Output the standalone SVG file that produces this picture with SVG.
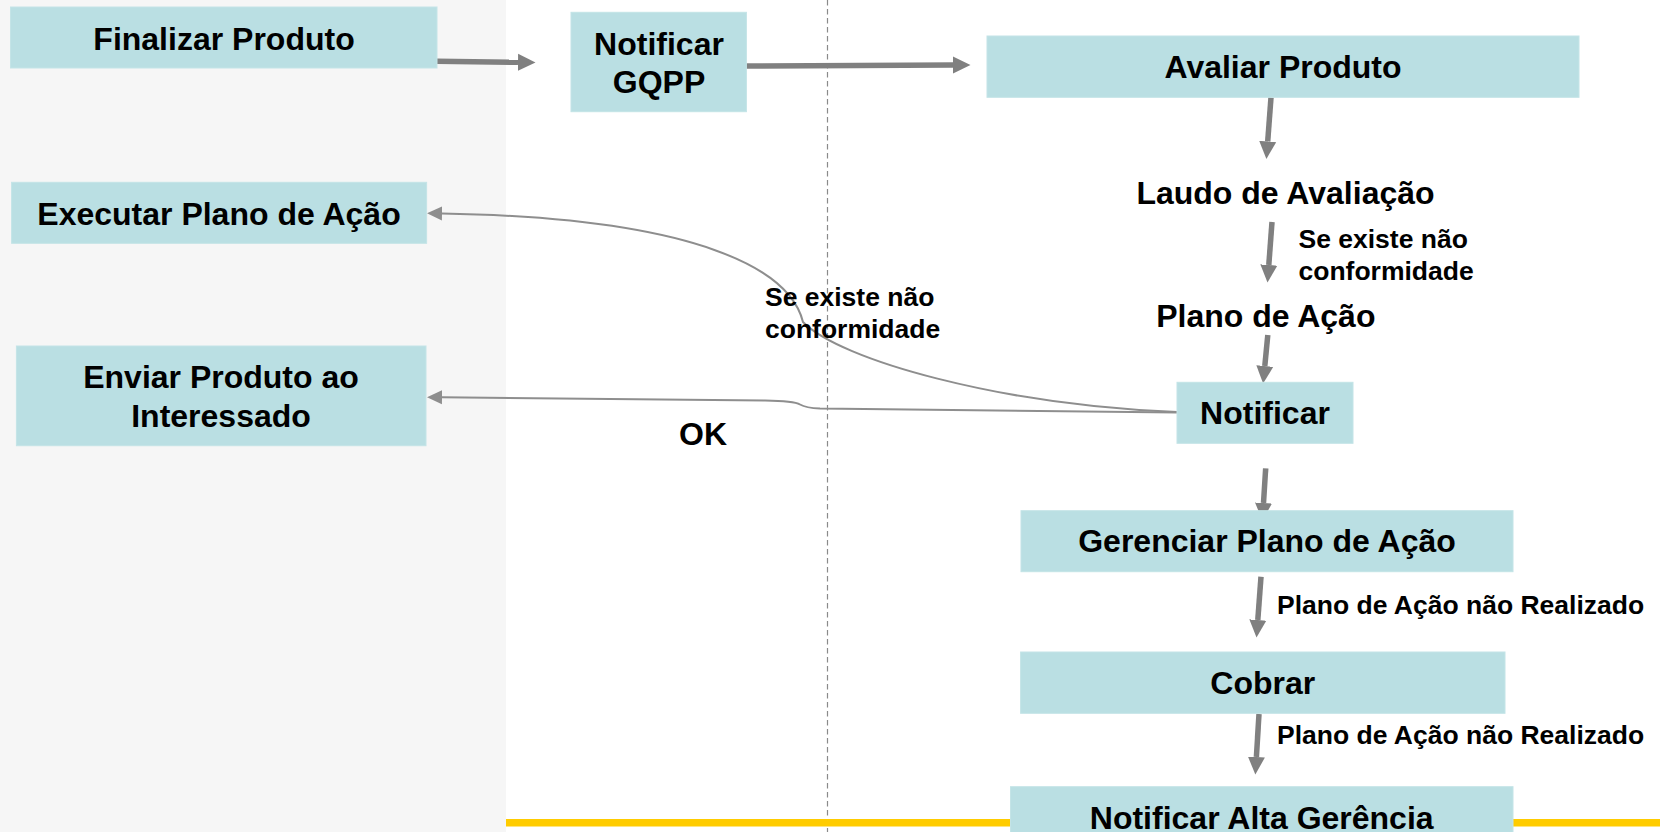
<svg xmlns="http://www.w3.org/2000/svg" width="1660" height="832" viewBox="0 0 1660 832">
  <defs>
    <style>
      .box { fill: #badfe3; stroke: #c4e4e7; stroke-width: 1; }
      .t { font-family: "Liberation Sans", Arial, sans-serif; font-weight: bold; fill: #000; }
      .big { font-size: 32px; text-anchor: middle; }
      .lbl { font-size: 26.5px; }
      .thick { fill: none; stroke: #808080; stroke-width: 5.5; marker-end: url(#ah); }
      .thin { fill: none; stroke: #8e8e8e; stroke-width: 2; marker-end: url(#ahs); }
    </style>
    <marker id="ah" markerUnits="userSpaceOnUse" markerWidth="18" markerHeight="18" refX="0" refY="8.5" orient="auto" viewBox="0 0 18 17">
      <path d="M0,0 L17.5,8.5 L0,17 z" fill="#808080"/>
    </marker>
    <marker id="ahs" markerUnits="userSpaceOnUse" markerWidth="16" markerHeight="15" refX="0" refY="7" orient="auto" viewBox="0 0 16 14">
      <path d="M0,0 L15,7 L0,14 z" fill="#8e8e8e"/>
    </marker>
  </defs>

  <rect x="0" y="0" width="1660" height="832" fill="#ffffff"/>
  <rect x="0" y="0" width="506" height="832" fill="#f6f6f6"/>
  <line x1="827.5" y1="0" x2="827.5" y2="832" stroke="#8a8a8a" stroke-width="1.2" stroke-dasharray="5.5 3.5"/>
  <rect x="506" y="819" width="1154" height="7.5" fill="#ffcc00"/>

  <g id="connectors">
    <path class="thick" d="M437,61.3 L518,62.3"/>
    <path class="thick" d="M740,66 L953,65"/>
    <path class="thick" d="M1271,97.5 L1267.7,141.5"/>
    <path class="thick" d="M1272,222 L1268.8,265"/>
    <path class="thick" d="M1267.8,335 L1264.8,366"/>
    <path class="thick" d="M1265.7,468.3 L1263.5,503"/>
    <path class="thick" d="M1261,576.7 L1257.8,620"/>
    <path class="thick" d="M1259,714 L1256.4,757"/>
    <path class="thin" d="M1177,412 C1000,405 840,360 803,322 C790,270 700,218 442,213.5"/>
    <path class="thin" d="M1177,412.5 L820,408.5 Q806,408 800,404.5 Q794,401 765,400.5 L442,397.3"/>
    <text class="t lbl" x="765" y="306">Se existe não</text>
    <text class="t lbl" x="765" y="337.5">conformidade</text>
    <text class="t big" x="703" y="445">OK</text>
    <text class="t lbl" x="1298.5" y="248.3">Se existe não</text>
    <text class="t lbl" x="1298.5" y="280">conformidade</text>
    <text class="t lbl" x="1277" y="614.3">Plano de Ação não Realizado</text>
    <text class="t lbl" x="1277" y="743.5">Plano de Ação não Realizado</text>
  </g>

  <g id="finalizar-produto">
    <rect class="box" x="10.5" y="7" width="426.5" height="61"/>
    <text class="t big" x="224" y="49.5">Finalizar Produto</text>
  </g>
  <g id="notificar-gqpp">
    <rect class="box" x="571" y="12.3" width="175.4" height="99.4"/>
    <text class="t big" x="659" y="55">Notificar</text>
    <text class="t big" x="659" y="93">GQPP</text>
  </g>
  <g id="avaliar-produto">
    <rect class="box" x="987" y="36" width="592" height="61.3"/>
    <text class="t big" x="1283" y="78.3">Avaliar Produto</text>
  </g>
  <g id="laudo-avaliacao">
    <text class="t big" x="1285.5" y="204">Laudo de Avaliação</text>
  </g>
  <g id="plano-acao">
    <text class="t big" x="1265.8" y="326.7">Plano de Ação</text>
  </g>
  <g id="executar-plano">
    <rect class="box" x="11.6" y="182.3" width="415" height="61"/>
    <text class="t big" x="219" y="225">Executar Plano de Ação</text>
  </g>
  <g id="enviar-produto">
    <rect class="box" x="16.4" y="346" width="409.6" height="99.7"/>
    <text class="t big" x="221" y="388">Enviar Produto ao</text>
    <text class="t big" x="221" y="427">Interessado</text>
  </g>
  <g id="notificar">
    <rect class="box" x="1177" y="382.3" width="176" height="61"/>
    <text class="t big" x="1265" y="424">Notificar</text>
  </g>
  <g id="gerenciar-plano">
    <rect class="box" x="1021" y="510.7" width="492" height="61"/>
    <text class="t big" x="1267" y="551.7">Gerenciar Plano de Ação</text>
  </g>
  <g id="cobrar">
    <rect class="box" x="1020.6" y="652" width="484.4" height="61.3"/>
    <text class="t big" x="1262.8" y="694">Cobrar</text>
  </g>
  <g id="notificar-alta-gerencia">
    <rect class="box" x="1010.5" y="786.7" width="502.5" height="60"/>
    <text class="t big" x="1261.7" y="829">Notificar Alta Gerência</text>
  </g>
</svg>
